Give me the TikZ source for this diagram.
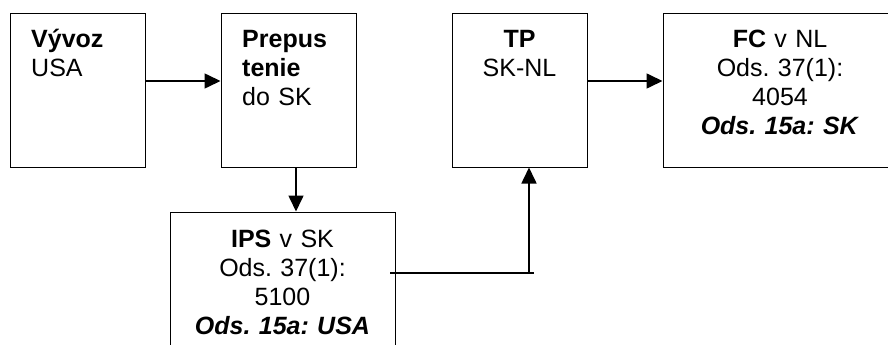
\documentclass[tikz,border=0pt]{standalone}
\usepackage{fontspec}
\setmainfont{Liberation Sans}
\usetikzlibrary{arrows.meta}
\frenchspacing
\begin{document}
\begin{tikzpicture}[x=1pt,y=-1pt,
  box/.style={draw=black,line width=1pt,inner sep=0pt,rectangle},
  txt/.style={inner sep=0pt,font=\fontsize{25pt}{29pt}\selectfont\frenchspacing},
  arr/.style={line width=1.6pt,-{Triangle[length=16pt,width=15pt]}},
  conn/.style={line width=1.6pt}]
\useasboundingbox (0,0) rectangle (888,345);
% boxes
\node[box,minimum width=135pt,minimum height=153pt] (b1) at (77.5,90.5) {};
\node[box,minimum width=135pt,minimum height=153pt] (b2) at (288.5,90.5) {};
\node[box,minimum width=135pt,minimum height=153pt] (tp) at (519.5,90.5) {};
\node[box,minimum width=234pt,minimum height=153pt] (fc) at (780,90.5) {};
\node[box,minimum width=225pt,minimum height=148pt] (ips) at (282.5,286) {};
% texts
\node[txt,anchor=base west,text width=110pt,align=left] (t1) at (31,48) {\textbf{Vývoz}\\USA};
\node[txt,anchor=base west,text width=110pt,align=left] (t2) at (242,48) {\textbf{Prepus}\\\textbf{tenie}\\do SK};
\node[txt,anchor=base,text width=135pt,align=center] (t3) at (519.5,48) {\textbf{TP}\\SK-NL};
\node[txt,anchor=base,text width=234pt,align=center] (t4) at (780,48) {\textbf{FC} v NL\\Ods. 37(1):\\4054\\\textbf{\itshape Ods. 15a: SK}};
\node[txt,anchor=base,text width=225pt,align=center] (t5) at (282.5,247) {\textbf{IPS} v SK\\Ods. 37(1):\\5100\\\textbf{\itshape Ods. 15a: USA}};
% connectors
\coordinate (ya) at (0,81);
\coordinate (xb) at (296,0);
\coordinate (s) at (390,273);
\coordinate (v) at (529,273);
\coordinate (k) at (534,273);
\draw[arr] (b1.east |- ya) -- (b2.west |- ya);
\draw[arr] (b2.south -| xb) -- (ips.north -| xb);
\draw[conn] (s) -- (k);
\draw[arr] (v) -- (v |- tp.south);
\draw[arr] (tp.east |- ya) -- (fc.west |- ya);
\end{tikzpicture}
\end{document}
